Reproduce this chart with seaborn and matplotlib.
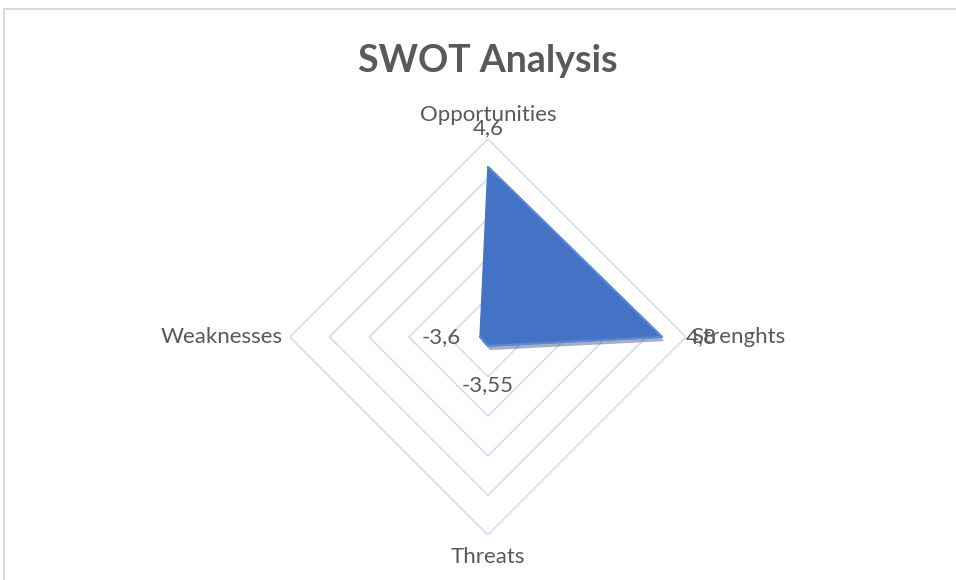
import numpy as np
import matplotlib.pyplot as plt
import matplotlib.patheffects as pe
from matplotlib.patches import Rectangle
import seaborn as sns

sns.set_theme(style='white')
plt.rcParams['font.family'] = ['Lato', 'DejaVu Sans']

# SWOT scores, clockwise from the top
categories = ['Opportunities', 'Strenghts', 'Threats', 'Weaknesses']
values = [4.6, 4.8, -3.55, -3.6]
value_labels = ['4,6', '4,8', '-3,55', '-3,6']
grid_levels = [-2, 0, 2, 4, 6]
r_min, r_max = -4, 6

text_col = '#595959'
grid_col = '#C9D7F0'
fill_col = '#4472C4'

angles = np.arange(len(categories)) * 2 * np.pi / len(categories)
closed_angles = np.append(angles, angles[0])

fig = plt.figure(figsize=(9.56, 5.8), dpi=100)
ax = fig.add_axes([0.3033, 0.0776, 0.4142, 0.6828], projection='polar')
ax.set_theta_zero_location('N')
ax.set_theta_direction(-1)
ax.set_ylim(r_min, r_max)

# diamond gridlines
for lvl in grid_levels:
    ax.plot(closed_angles, [lvl] * len(closed_angles), color=grid_col, lw=1, zorder=1)

# data polygon
closed_vals = np.append(values, values[0])
ax.fill(closed_angles, closed_vals, color=fill_col, zorder=3,
        path_effects=[pe.SimplePatchShadow(offset=(1.5, -3), shadow_rgbFace='#1F3864', alpha=0.4), pe.Normal()])
sns.lineplot(x=closed_angles, y=closed_vals, sort=False, color='#5A87D6', lw=1.5, ax=ax, zorder=4)

ax.set_xticks([])
ax.set_yticks([])
ax.grid(False)
ax.spines['polar'].set_visible(False)
ax.patch.set_visible(False)

# category labels
cat_pos = [((0, 17), 'center', 'center'), ((4, 0), 'left', 'center'),
           ((0, -16), 'center', 'center'), ((-5, 0), 'right', 'center')]
for a, name, (off, ha, va) in zip(angles, categories, cat_pos):
    ax.annotate(name, xy=(a, r_max), xytext=off, textcoords='offset points',
                ha=ha, va=va, fontsize=16, color=text_col)

# data labels
for a, v, lab in zip(angles, values, value_labels):
    d = 28
    off = (d * np.sin(a), d * np.cos(a))
    ax.annotate(lab, xy=(a, v), xytext=off, textcoords='offset points',
                ha='center', va='center', fontsize=16, color=text_col, zorder=5)

fig.text(0.51, 0.895, 'SWOT Analysis', ha='center', va='center',
         fontsize=27, fontweight='bold', color=text_col)

fig.patches.append(Rectangle((3.5 / 956, -0.1), 1.2, (580 - 9.5) / 580 + 0.1,
                             transform=fig.transFigure, fill=False,
                             edgecolor='#D9D9D9', lw=1.5))

fig.savefig('out.png', dpi=100)
